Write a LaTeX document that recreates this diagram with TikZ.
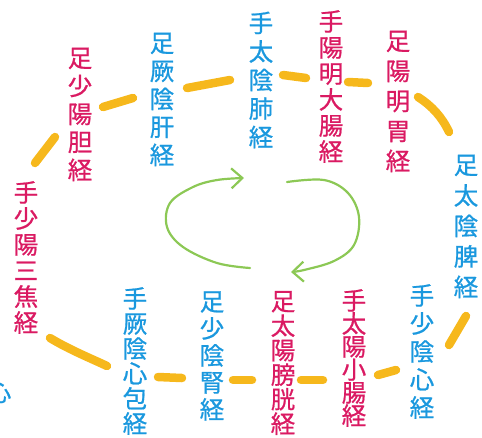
\documentclass[tikz,border=0pt]{standalone}
\usepackage{fontspec}
\newfontfamily\cjk[FakeBold=0.8]{Noto Sans CJK JP}
\usetikzlibrary{arrows.meta}
\definecolor{mag}{RGB}{218,26,98}
\definecolor{blu}{RGB}{26,152,222}
\definecolor{gold}{RGB}{246,184,28}
\definecolor{grn}{RGB}{140,200,85}
\tikzset{
  col/.style={align=center, inner sep=0pt, font=\cjk\fontsize{24.5}{#1}\selectfont},
  yin/.style={text=blu},
  yang/.style={text=mag},
  gbar/.style={draw=gold, line width=8.5pt, line cap=round},
  cyc/.style={draw=grn, line width=2.2pt, line cap=round, line join=round,
    -{Straight Barb[length=11pt,width=20pt,line width=2.2pt]}}
}
\begin{document}
\begin{tikzpicture}[x=1pt,y=-1pt]
\useasboundingbox (0,0) rectangle (482,437);
% meridian columns
\node[col=28, yang] (dan) at (80,114.5) {足\\少\\陽\\胆\\経};
\node[col=28, yin] (kan) at (162,99.5) {足\\厥\\陰\\肝\\経};
\node[col=28.5, yin] (hai) at (261,80) {手\\太\\陰\\肺\\経};
\node[col=26, yang] (daicho) at (331,86.5) {手\\陽\\明\\大\\腸\\経};
\node[col=30, yang] (i) at (398,101.5) {足\\陽\\明\\胃\\経};
\node[col=30.5, yin] (hi) at (466,226.5) {足\\太\\陰\\脾\\経};
\node[col=28, yin] (shin) at (422,351.5) {手\\少\\陰\\心\\経};
\node[col=23, yang] (shocho) at (354,358) {手\\太\\陽\\小\\腸\\経};
\node[col=24.5, yang] (bokou) at (283,363) {足\\太\\陽\\膀\\胱\\経};
\node[col=27, yin] (jin) at (212,356) {足\\少\\陰\\腎\\経};
\node[col=25, yin] (shinpou) at (135,361) {手\\厥\\陰\\心\\包\\経};
\node[col=26, yang] (sanshou) at (26,257.5) {手\\少\\陽\\三\\焦\\経};
\node[col=26, yin] (frag) at (-1,392) {心};
% yellow links
\draw[gbar] (35,163) -- (55,137);
\draw[gbar] (103,107) -- (133,98);
\draw[gbar] (187,88) -- (230,80);
\draw[gbar] (283,75) -- (306,78);
\draw[gbar] (348,82) -- (368,83);
\draw[gbar] (418,97) .. controls (432,106) and (442,117) .. (449,132);
\draw[gbar] (466,316) -- (449,345);
\draw[gbar] (378,375) -- (396,370);
\draw[gbar] (301,380) -- (323,380);
\draw[gbar] (233,380) -- (252,380);
\draw[gbar] (158,377) -- (182,378);
\draw[gbar] (50,338) .. controls (70,350) and (90,358) .. (107,366);
% green cycle arrows
\draw[cyc] plot[smooth, tension=0.6] coordinates {(250,268) (217,263) (183,247) (167,227) (170,203) (193,187) (217,180) (244,178)};
\draw[cyc] plot[smooth, tension=0.6] coordinates {(287,182) (324,180) (348,193) (359,217) (354,245) (334,261) (304,270) (291,272)};
\end{tikzpicture}
\end{document}
